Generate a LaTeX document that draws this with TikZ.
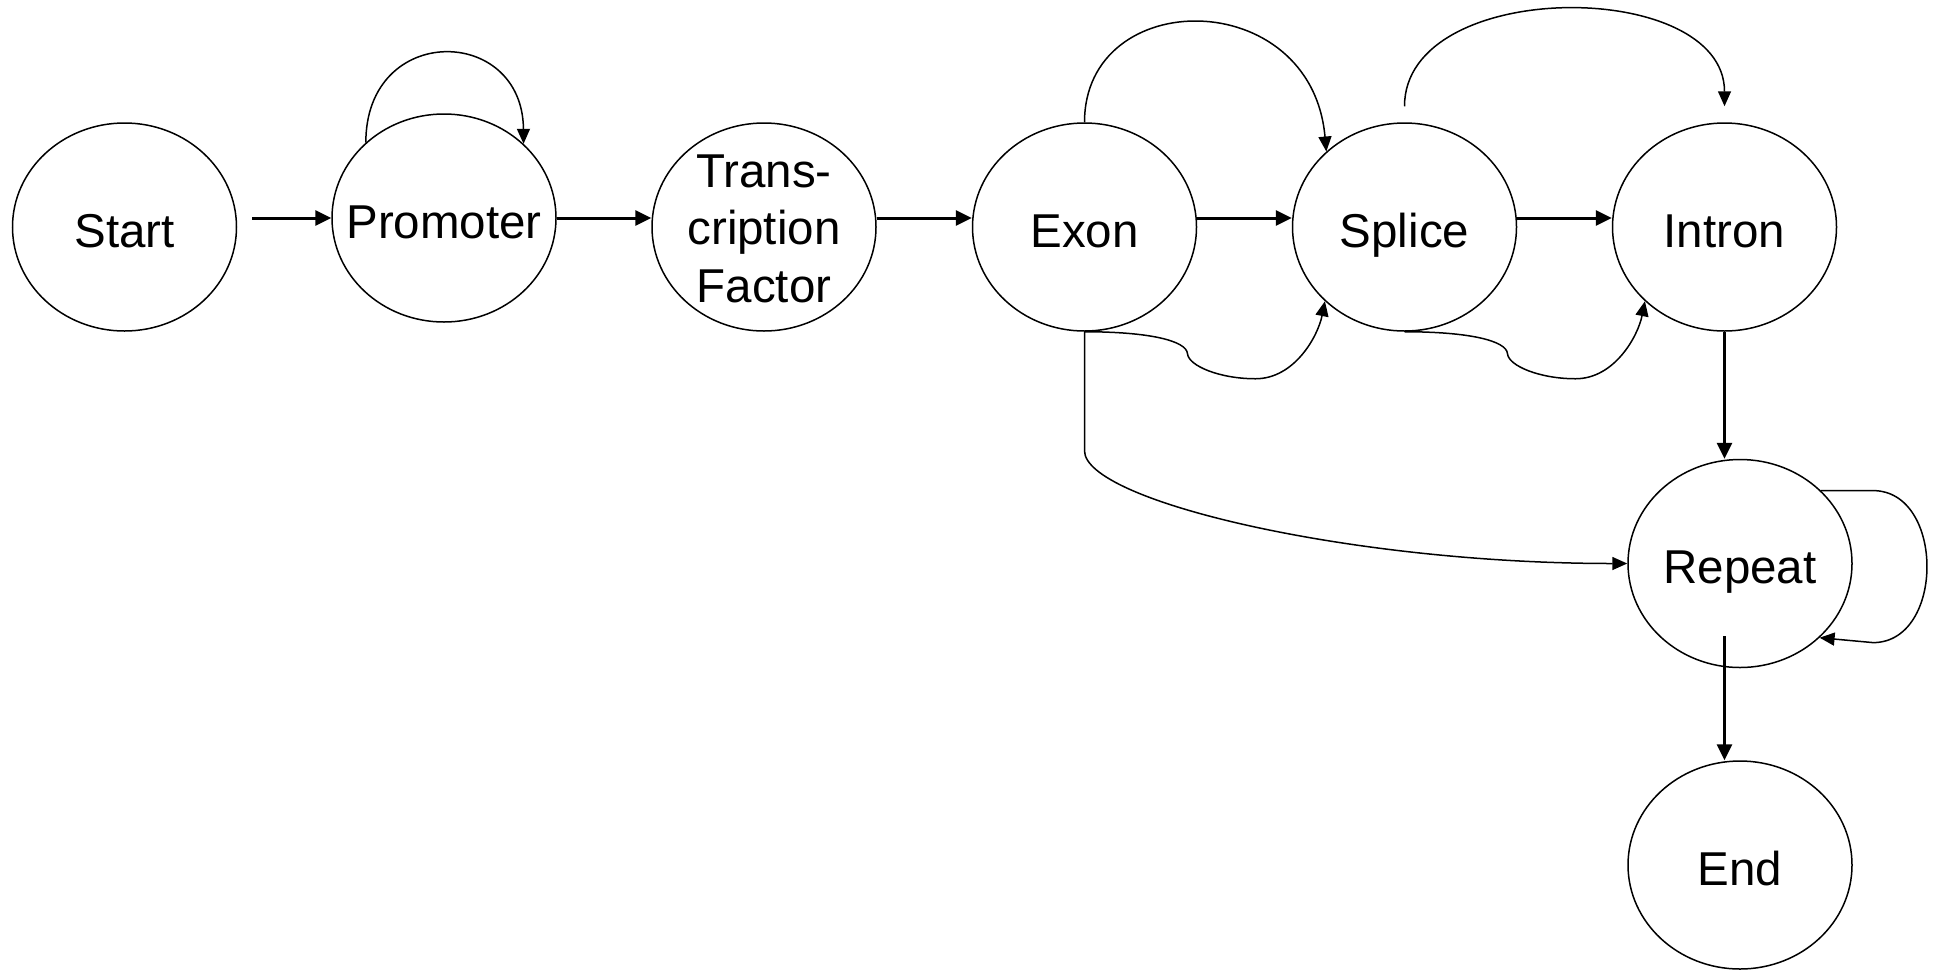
\documentclass[tikz,border=0pt]{standalone}
\usepackage{fontspec}
\setmainfont{Liberation Sans}
\usetikzlibrary{arrows.meta,shapes.geometric,calc}
\begin{document}
\begin{tikzpicture}[x=1pt,y=-1pt,
  state/.style={draw, ellipse, line width=1.5pt, minimum width=224pt,
    minimum height=208pt, inner sep=-30pt, text height=40pt, text depth=0pt,
    font=\fontsize{47.5}{57.5}\selectfont},
  flow/.style={line width=3pt, -{Triangle[length=16pt,width=15pt]}},
  hop/.style={line width=1.5pt, -{Triangle[length=15pt,width=13pt]}}]
\useasboundingbox (0,0) rectangle (1937,970);

% states
\node[state] (start)    at (124.5,227) {Start};
\node[state] (promoter) at (444,218)   {Promoter};
\node[state, text height=150pt] (tf) at (764,227)
  {\begin{tabular}[b]{@{}c@{}}Trans-\\cription\\Factor\end{tabular}};
\node[state] (exon)     at (1084.5,227) {Exon};
\node[state] (splice)   at (1404.5,227) {Splice};
\node[state] (intron)   at (1724.5,227) {Intron};
\node[state] (repeat)   at (1740,563.5) {Repeat};
\node[state] (endstate) at (1740,865)   {End};

% main chain
\draw[flow] ($(start.east |- promoter.west)+(15,0)$) -- (promoter.west);
\draw[flow] (promoter.east) -- (promoter.east -| tf.west);
\draw[flow] (tf.east |- promoter.east) -- (exon.west |- promoter.east);
\draw[flow] (exon.east |- promoter.east) -- (splice.west |- promoter.east);
\draw[flow] (splice.east |- promoter.east) -- (intron.west |- promoter.east);
\draw[flow] (intron.south) -- (intron.south |- repeat.north);
\draw[flow] ($(intron.south |- repeat.south)+(0,-32)$) -- (intron.south |- endstate.north);

% self loops
\draw[hop] (promoter.136.5) .. controls +(0,-120) and +(-1,-119) .. (promoter.43.5);
\draw[hop] (repeat.42.6) -- ++(52,0) .. controls +(72,0) and +(72,0) .. ++(0,152) -- (repeat.-43);

% skips over the top
\draw[hop] (exon.north) .. controls +(0,-137) and +(-15,-167) .. (splice.136.7);
\draw[hop] ($(splice.north)+(0,-16)$) .. controls +(0,-129) and +(0,-129) .. ($(intron.north)+(0,-16)$);

% wavy links underneath
\draw[hop] (exon.south) .. controls +(65,0) and +(-1,-13) .. ++(103,22)
  .. controls +(1,12) and +(-36,0) .. ++(68,25)
  .. controls +(39,0) and +(-7,35) .. (splice.223);
\draw[hop] (splice.south) .. controls +(65,0) and +(-1,-13) .. ++(103,22)
  .. controls +(1,12) and +(-36,0) .. ++(68,25)
  .. controls +(39,0) and +(-7,35) .. (intron.223);

% exon straight to repeat
\draw[hop] (exon.south) -- ++(0,119) .. controls +(0,50) and +(-278,0) .. (repeat.west);
\end{tikzpicture}
\end{document}
